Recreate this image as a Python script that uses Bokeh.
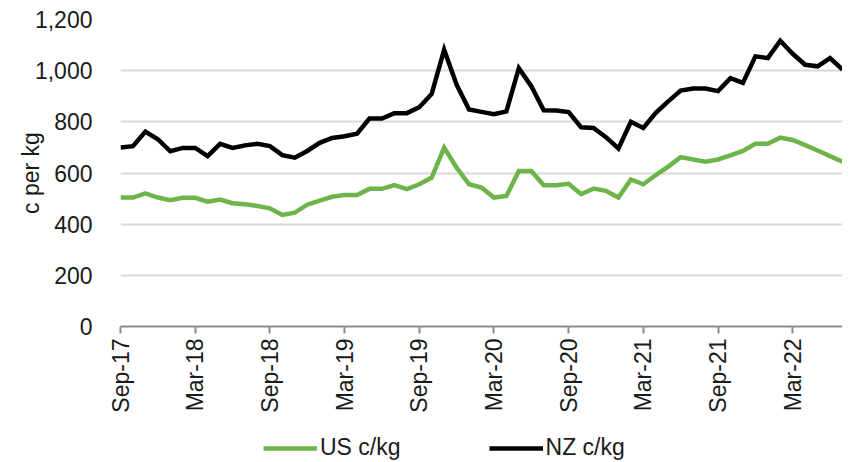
import math
from bokeh.plotting import figure
from bokeh.layouts import column
from bokeh.models import (Range1d, FixedTicker, NumeralTickFormatter, Legend, LegendItem,
                          ColumnDataSource)
from bokeh.embed import file_html
from bokeh.resources import INLINE

# ---- data -----------------------------------------------------------------
months = ["Sep-17", "Oct-17", "Nov-17", "Dec-17", "Jan-18", "Feb-18", "Mar-18", "Apr-18",
          "May-18", "Jun-18", "Jul-18", "Aug-18", "Sep-18", "Oct-18", "Nov-18", "Dec-18",
          "Jan-19", "Feb-19", "Mar-19", "Apr-19", "May-19", "Jun-19", "Jul-19", "Aug-19",
          "Sep-19", "Oct-19", "Nov-19", "Dec-19", "Jan-20", "Feb-20", "Mar-20", "Apr-20",
          "May-20", "Jun-20", "Jul-20", "Aug-20", "Sep-20", "Oct-20", "Nov-20", "Dec-20",
          "Jan-21", "Feb-21", "Mar-21", "Apr-21", "May-21", "Jun-21", "Jul-21", "Aug-21",
          "Sep-21", "Oct-21", "Nov-21", "Dec-21", "Jan-22", "Feb-22", "Mar-22", "Apr-22",
          "May-22", "Jun-22", "Jul-22"]

us_ckg = [504, 504, 520, 504, 494, 503, 503, 488, 496, 482, 478, 471, 462, 436, 445, 476,
          492, 507, 514, 514, 538, 538, 553, 537, 556, 582, 699, 621, 556, 543, 504, 510,
          608, 608, 552, 552, 558, 517, 539, 530, 504, 575, 556, 592, 625, 662, 653, 644,
          653, 669, 686, 714, 714, 738, 729, 709, 688, 666, 644]

nz_ckg = [700, 705, 762, 732, 685, 698, 698, 666, 714, 698, 708, 714, 705, 670, 660, 686,
          718, 737, 744, 754, 813, 813, 834, 834, 857, 909, 1082, 945, 848, 839, 830, 841,
          1010, 939, 845, 844, 838, 779, 776, 740, 696, 800, 776, 835, 880, 922, 930, 930,
          920, 971, 952, 1056, 1049, 1117, 1066, 1023, 1017, 1049, 1004]

y_ticks = [0, 200, 400, 600, 800, 1000, 1200]
x_tick_labels = ["Sep-17", "Mar-18", "Sep-18", "Mar-19", "Sep-19", "Mar-20",
                 "Sep-20", "Mar-21", "Sep-21", "Mar-22"]

series_names = ["US c/kg", "NZ c/kg"]
series_colors = ["#6DB54A", "#000000"]

# ---- main chart -----------------------------------------------------------
FONT = "Liberation Sans"
TXT = "#1a1a1a"
W = 842

idx = list(range(len(months)))
src = ColumnDataSource(dict(x=idx, us=us_ckg, nz=nz_ckg))

p = figure(width=W, height=428, output_backend="svg", toolbar_location=None,
           x_range=Range1d(0, len(months) - 1), y_range=Range1d(0, 1200),
           min_border_left=120, min_border_right=0, min_border_top=19,
           min_border_bottom=102)
p.outline_line_color = None
p.background_fill_color = "white"
p.border_fill_color = "white"

for col, color in zip(["us", "nz"], series_colors):
    p.line("x", col, source=src, line_color=color, line_width=4.5, line_join="miter")

tick_pos = [months.index(m) for m in x_tick_labels]
xa = p.xaxis[0]
xa.ticker = FixedTicker(ticks=tick_pos)
xa.major_label_overrides = {i: m for i, m in zip(tick_pos, x_tick_labels)}
xa.major_label_orientation = math.pi / 2
xa.major_label_text_font = FONT
xa.major_label_text_font_size = "23px"
xa.major_label_text_color = TXT
xa.major_label_standoff = 5
xa.axis_line_color = "#8c8c8c"
xa.axis_line_width = 2
xa.major_tick_line_color = "#8c8c8c"
xa.major_tick_line_width = 2
xa.major_tick_out = 7
xa.major_tick_in = 0
xa.minor_tick_line_color = None

ya = p.yaxis[0]
ya.ticker = FixedTicker(ticks=y_ticks)
ya.formatter = NumeralTickFormatter(format="0,0")
ya.major_label_text_font = FONT
ya.major_label_text_font_size = "23px"
ya.major_label_text_color = TXT
ya.major_label_standoff = 22
ya.axis_line_color = None
ya.major_tick_line_color = None
ya.minor_tick_line_color = None
ya.axis_label = "c per kg"
ya.axis_label_text_font = FONT
ya.axis_label_text_font_size = "23px"
ya.axis_label_text_font_style = "normal"
ya.axis_label_text_color = TXT
ya.axis_label_standoff = -12

p.xgrid.grid_line_color = None
p.ygrid.grid_line_color = "#d9d9d9"
p.ygrid.grid_line_width = 2

# ---- legend strip (same series, drawn outside its view; only the key shows) --
lg = figure(width=W, height=34, output_backend="svg", toolbar_location=None,
            x_axis_type=None, y_axis_type=None,
            x_range=Range1d(1000, 1001), y_range=Range1d(0, 1),
            min_border_left=0, min_border_right=0, min_border_top=0, min_border_bottom=0)
lg.outline_line_color = None
lg.xgrid.grid_line_color = None
lg.ygrid.grid_line_color = None
lg.border_fill_color = "white"

items = []
for col, color, name in zip(["us", "nz"], series_colors, series_names):
    r = lg.line("x", col, source=src, line_color=color, line_width=4.5)
    items.append(LegendItem(label=name, renderers=[r]))

legend = Legend(items=items, orientation="horizontal", location=(143, 1))
legend.label_text_font = FONT
legend.label_text_font_size = "23px"
legend.label_text_color = TXT
legend.glyph_width = 54
legend.glyph_height = 20
legend.label_height = 20
legend.label_standoff = 3
legend.spacing = 88
legend.padding = 0
legend.margin = 0
legend.border_line_color = None
legend.background_fill_alpha = 0
lg.add_layout(legend, "center")

layout = column(p, lg, spacing=0)
open("out.html", "w").write(file_html(layout, INLINE))
